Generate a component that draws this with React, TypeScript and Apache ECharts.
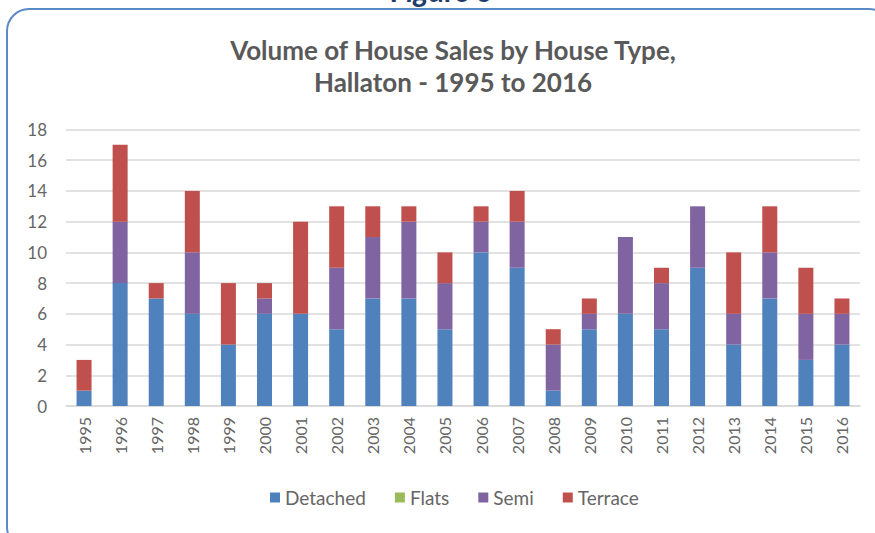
import React, { useEffect, useRef } from "react";
import * as echarts from "echarts";

const years = ["1995","1996","1997","1998","1999","2000","2001","2002","2003","2004","2005","2006","2007","2008","2009","2010","2011","2012","2013","2014","2015","2016"];
const detached = [1, 8, 7, 6, 4, 6, 6, 5, 7, 7, 5, 10, 9, 1, 5, 6, 5, 9, 4, 7, 3, 4];
const flats = [0, 0, 0, 0, 0, 0, 0, 0, 0, 0, 0, 0, 0, 0, 0, 0, 0, 0, 0, 0, 0, 0];
const semi = [0, 4, 0, 4, 0, 1, 0, 4, 4, 5, 3, 2, 3, 3, 1, 5, 3, 4, 2, 3, 3, 2];
const terrace = [2, 5, 1, 4, 4, 1, 6, 4, 2, 1, 2, 1, 2, 1, 1, 0, 1, 0, 4, 3, 3, 1];

const FONT = "Lato, 'Noto Sans', sans-serif";
const TXT = "#595959";

export default function App() {
  const ref = useRef<HTMLDivElement>(null);
  useEffect(() => {
    if (!ref.current) return;
    const chart = echarts.init(ref.current, undefined, { renderer: "svg" });
    const mk = (name: string, data: number[], color: string) => ({
      name,
      type: "bar",
      stack: "total",
      data,
      barWidth: 15,
      itemStyle: { color },
    });
    chart.setOption({
      animation: false,
      backgroundColor: "#ffffff",
      textStyle: { fontFamily: FONT },
      title: {
        text: "Volume of House Sales by House Type,\nHallaton - 1995 to 2016",
        left: 448,
        textAlign: "center",
        top: 29,
        textStyle: { fontSize: 26, fontWeight: "bold", color: TXT, lineHeight: 32, fontFamily: FONT },
      },
      graphic: [
        {
          type: "rect",
          shape: { x: 7, y: 9, width: 884, height: 540, r: 22 },
          style: { fill: "none", stroke: "#5a8ac6", lineWidth: 2 },
          z: -1,
        },
        {
          type: "text",
          x: 442,
          y: 5,
          style: {
            text: "Figure 3",
            fill: "#1f3d6b",
            font: "italic bold 30px " + FONT,
            align: "center",
            verticalAlign: "bottom",
          },
        },
      ],
      legend: {
        data: ["Detached", "Flats", "Semi", "Terrace"],
        bottom: 21,
        left: 265,
        itemWidth: 10,
        itemHeight: 10,
        itemGap: 29,
        icon: "rect",
        textStyle: { fontSize: 19, color: "#666666", fontFamily: FONT },
      },
      grid: { left: 66, right: 15, top: 129.5, bottom: 127, containLabel: false },
      xAxis: {
        type: "category",
        data: years,
        axisLine: { lineStyle: { color: "#d9d9d9", width: 1.5 } },
        axisTick: { show: false },
        axisLabel: { rotate: 90, fontSize: 16, color: "#666666", margin: 11, fontFamily: FONT },
      },
      yAxis: {
        type: "value",
        min: 0,
        max: 18,
        interval: 2,
        axisLine: { show: false },
        axisTick: { show: false },
        axisLabel: { fontSize: 17, color: "#666666", margin: 19, fontFamily: FONT },
        splitLine: { lineStyle: { color: "#d9d9d9", width: 1.5 } },
      },
      series: [
        mk("Detached", detached, "#4f81bd"),
        mk("Flats", flats, "#9bbb59"),
        mk("Semi", semi, "#8064a2"),
        mk("Terrace", terrace, "#c0504d"),
      ],
    });
    return () => chart.dispose();
  }, []);
  return (
    <div
      ref={ref}
      style={{ position: "fixed", left: 0, top: 0, width: 875, height: 533 }}
    />
  );
}
